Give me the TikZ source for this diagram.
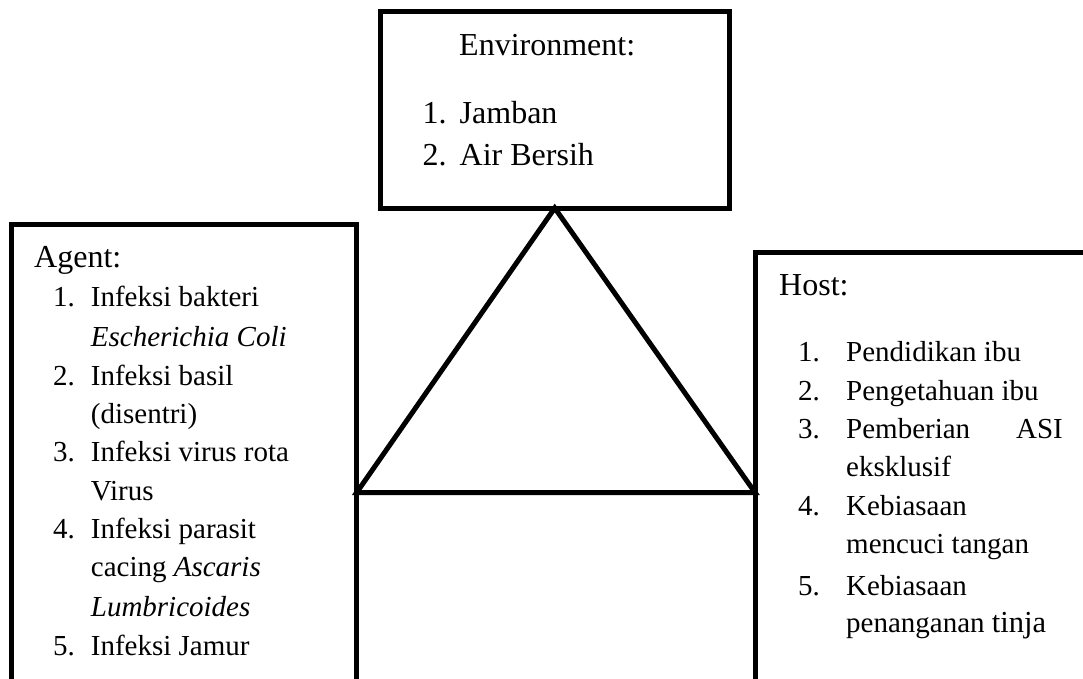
\documentclass[tikz,border=0pt]{standalone}
\usepackage{fontspec}
\setmainfont{Liberation Serif}
\begin{document}
\begin{tikzpicture}[x=1pt,y=-1pt,
  box/.style={draw=black, line width=5pt, inner sep=0pt, outer sep=0pt},
  big/.style={anchor=base west, inner sep=0pt, font=\fontsize{32}{40}\selectfont},
  txt/.style={anchor=base west, inner sep=0pt, font=\fontsize{29}{38}\selectfont}]
\useasboundingbox (0,0) rectangle (1083,678);
\clip (0,0) rectangle (1083,678);
\fill[white] (0,0) rectangle (1083,678);
% boxes
\node[box, minimum width=348.5pt, minimum height=196.3pt] (env) at (554.75,109.85) {};
\node[box, minimum width=345.2pt, minimum height=475.5pt] (agent) at (184.1,462.25) {};
\node[box, minimum width=330pt, minimum height=447.5pt] (host) at (920,476.25) {};
% triangle
\coordinate (baseref) at (0,492.5);
\coordinate (apex) at (env.south);
\coordinate (lv) at (agent.east |- baseref);
\coordinate (rv) at (host.west |- baseref);
\draw[line width=5pt, line join=miter] (apex) -- (lv) -- (rv) -- cycle;
% environment text
\node[big] (envt) at (459,55) {Environment:};
\node[big] (en1) at (422.5,123.3) {1.};
\node[big] (et1) at (459.5,123.3) {Jamban};
\node[big] (en2) at (422.5,165.7) {2.};
\node[big] (et2) at (459.5,165.7) {Air Bersih};
% agent text
\node[big] (agt) at (34,267.3) {Agent:};
\node[txt] (an1) at (53,306.7) {1.};
\node[txt] (at1) at (90.7,306.7) {Infeksi bakteri};
\node[txt] (at1b) at (90.7,346) {\itshape Escherichia Coli};
\node[txt] (an2) at (53,385) {2.};
\node[txt] (at2) at (90.7,385) {Infeksi basil};
\node[txt] (at2b) at (90.7,423.3) {(disentri)};
\node[txt] (an3) at (53,461.7) {3.};
\node[txt] (at3) at (90.7,461.7) {Infeksi virus rota};
\node[txt] (at3b) at (90.7,500) {Virus};
\node[txt] (an4) at (53,538.3) {4.};
\node[txt] (at4) at (90.7,538.3) {Infeksi parasit};
\node[txt] (at4b) at (90.7,576.7) {cacing \itshape Ascaris};
\node[txt] (at4c) at (90.7,616) {\itshape Lumbricoides};
\node[txt] (an5) at (53,655) {5.};
\node[txt] (at5) at (90.7,655) {Infeksi Jamur};
% host text
\node[big] (hst) at (779,295) {Host:};
\node[txt] (hn1) at (798,361.7) {1.};
\node[txt] (ht1) at (846,361.7) {Pendidikan ibu};
\node[txt] (hn2) at (798,400) {2.};
\node[txt] (ht2) at (846,400) {Pengetahuan ibu};
\node[txt] (hn3) at (798,438.3) {3.};
\node[txt] (ht3) at (846,438.3) {Pemberian};
\node[txt, anchor=base east] (ht3b) at (1063,438.3) {ASI};
\node[txt] (ht3c) at (846,476.7) {eksklusif};
\node[txt] (hn4) at (798,515) {4.};
\node[txt] (ht4) at (846,515) {Kebiasaan};
\node[txt] (ht4b) at (846,553) {mencuci tangan};
\node[txt] (hn5) at (798,595) {5.};
\node[txt] (ht5) at (846,595) {Kebiasaan};
\node[txt] (ht5b) at (846,632) {penanganan {\fontsize{30.5}{38}\selectfont tinja}};
\end{tikzpicture}
\end{document}
